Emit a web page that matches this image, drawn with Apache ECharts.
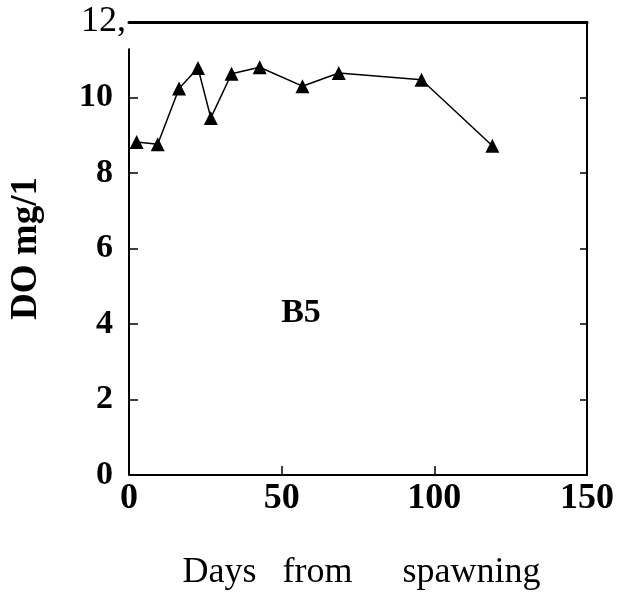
<!DOCTYPE html>
<html>
<head>
<meta charset="utf-8">
<script src="https://cdn.jsdelivr.net/npm/echarts@6/dist/echarts.min.js"></script>
<style>
  html, body { margin: 0; padding: 0; background: #fff; }
  #chart { width: 620px; height: 596px; }
</style>
</head>
<body>
<div id="chart"></div>
<script>
// days after spawning and dissolved oxygen, station B5
var days = [2.5, 9.4, 16.4, 22.6, 26.8, 33.6, 42.8, 56.8, 68.7, 95.8, 119];
var doValues = [8.82, 8.76, 10.24, 10.78, 9.46, 10.63, 10.8, 10.3, 10.65, 10.47, 8.72];
var xTicks = [0, 50, 100, 150];
var yTicks = [0, 2, 4, 6, 8, 10, 12];

var serif = "'Liberation Serif', 'Times New Roman', serif";

var points = days.map(function (d, i) { return [d, doValues[i]]; });

var chart = echarts.init(document.getElementById('chart'));

//x轴名称：单词间距较大
var wordStyle = { fontFamily: serif, fontSize: 36, color: '#000', align: 'center' };

var option = {
    backgroundColor: '#fff',
    animation: false,
    grid: { left: 128, right: 33, top: 22, bottom: 118 },
    graphic: [{
        type: 'text',
        x: 301, y: 313,
        style: {
            text: 'B5',
            font: 'bold 34px ' + serif,
            fill: '#000',
            textAlign: 'center',
            textVerticalAlign: 'middle'
        }
    }],
    xAxis: [{
        type: 'value',
        min: xTicks[0],
        max: xTicks[xTicks.length - 1],
        interval: 50,
        name: '{a|Days} {b|from} {c|spawning}',
        nameLocation: 'middle',
        nameGap: 80,
        nameTextStyle: {
            fontFamily: serif,
            fontSize: 36,
            color: '#000',
            padding: [0, 0, 0, 31],
            rich: {
                a: Object.assign({ width: 84 }, wordStyle),
                b: Object.assign({ width: 94 }, wordStyle),
                c: Object.assign({ width: 196 }, wordStyle)
            }
        },
        splitLine: { show: false },
        axisLine: { onZero: false, lineStyle: { color: '#000', width: 2 } },
        axisTick: { inside: true, length: 9, lineStyle: { color: '#000', width: 1.5 } },
        axisLabel: {
            margin: 6,
            fontFamily: serif,
            fontWeight: 'bold',
            fontSize: 36,
            color: '#000'
        }
    }, {
        type: 'value',
        position: 'top',
        min: xTicks[0],
        max: xTicks[xTicks.length - 1],
        interval: 50,
        splitLine: { show: false },
        axisLine: { show: true, onZero: false, lineStyle: { color: '#000', width: 3 } },
        axisTick: { show: false },
        axisLabel: { show: false }
    }],
    yAxis: [{
        type: 'value',
        min: yTicks[0],
        max: yTicks[yTicks.length - 1],
        interval: 2,
        name: 'DO mg/1',
        nameLocation: 'middle',
        nameGap: 84,
        nameTextStyle: {
            fontFamily: serif,
            fontWeight: 'bold',
            fontSize: 37,
            color: '#000'
        },
        splitLine: { show: false },
        axisLine: { show: false, onZero: false },
        axisTick: { inside: true, length: 9, lineStyle: { color: '#000', width: 1.5 } },
        axisLabel: {
            margin: 3,
            formatter: function (v) {
                return v === 12 ? '{r|12,}' : '{b|' + v + '}';
            },
            rich: {
                b: {
                    fontFamily: serif,
                    fontWeight: 'bold',
                    fontSize: 34,
                    color: '#000',
                    padding: [0, 13, 0, 0]
                },
                r: {
                    fontFamily: serif,
                    fontSize: 36,
                    color: '#000'
                }
            }
        }
    }, {
        type: 'value',
        position: 'right',
        min: yTicks[0],
        max: yTicks[yTicks.length - 1],
        interval: 2,
        splitLine: { show: false },
        axisLine: { show: true, onZero: false, lineStyle: { color: '#000', width: 2 } },
        axisTick: { inside: true, length: 7, lineStyle: { color: '#000', width: 1.5 } },
        axisLabel: { show: false }
    }],
    series: [{
        type: 'line',
        data: points,
        symbol: 'triangle',
        symbolSize: 14,
        itemStyle: { color: '#000' },
        lineStyle: { color: '#000', width: 1.5 },
        markLine: {
            silent: true,
            symbol: 'none',
            label: { show: false },
            lineStyle: { color: '#000', width: 2, type: 'solid' },
            data: [[{ coord: [0, 0] }, { coord: [0, 11.3] }]]
        }
    }]
};

chart.setOption(option);
</script>
</body>
</html>
